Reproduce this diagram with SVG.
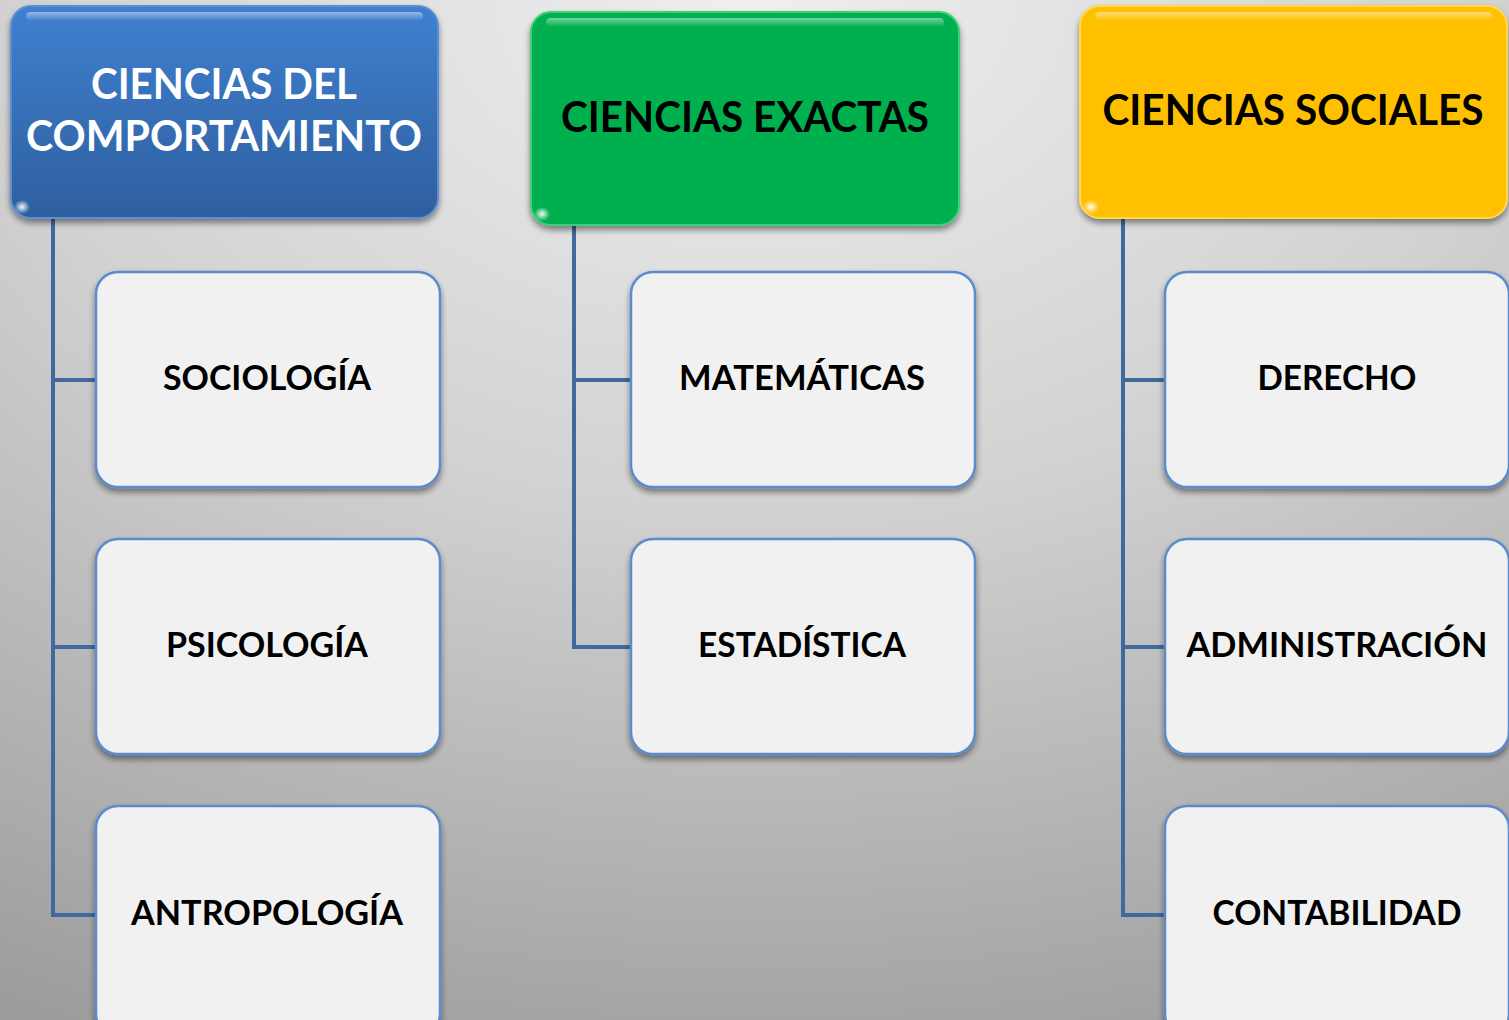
<svg xmlns="http://www.w3.org/2000/svg" width="1509" height="1020" viewBox="0 0 1509 1020">
<defs>
<radialGradient id="bg" cx="0.5" cy="0" r="1.1" fx="0.5" fy="0">
<stop offset="0" stop-color="#efefef"/>
<stop offset="0.45" stop-color="#d2d2d2"/>
<stop offset="1" stop-color="#9c9c9c"/>
</radialGradient>
<linearGradient id="blue" x1="0" y1="0" x2="0" y2="1">
<stop offset="0" stop-color="#3f80d0"/>
<stop offset="1" stop-color="#2e5f9f"/>
</linearGradient>
<linearGradient id="gloss" x1="0" y1="0" x2="0" y2="1">
<stop offset="0" stop-color="#ffffff" stop-opacity="0.45"/>
<stop offset="1" stop-color="#ffffff" stop-opacity="0"/>
</linearGradient>
<radialGradient id="spot" cx="0.5" cy="0.5" r="0.5">
<stop offset="0" stop-color="#ffffff" stop-opacity="0.95"/>
<stop offset="1" stop-color="#ffffff" stop-opacity="0"/>
</radialGradient>
<filter id="sh" x="-10%" y="-10%" width="120%" height="125%">
<feGaussianBlur in="SourceAlpha" stdDeviation="3"/>
<feOffset dx="0" dy="4" result="b"/>
<feComponentTransfer><feFuncA type="linear" slope="0.45"/></feComponentTransfer>
<feMerge><feMergeNode/><feMergeNode in="SourceGraphic"/></feMerge>
</filter>
</defs>
<style>
.hd{stroke-width:2;filter:url(#sh)}
.ch{fill:#f1f1f1;stroke:#5a8ccc;stroke-width:2.5;filter:url(#sh)}
.gl{fill:url(#gloss)}
.sp{fill:url(#spot)}
.tw{font-family:Lato,"Open Sans",sans-serif;font-weight:bold;fill:#ffffff;text-anchor:middle}
.tb{font-family:Lato,"Open Sans",sans-serif;font-weight:bold;fill:#000000;text-anchor:middle}
.cn{fill:none;stroke:#41699e;stroke-width:4}
</style>
<rect x="0" y="0" width="1509" height="1020" fill="url(#bg)"/>
<g id="connectors">
<path class="cn" d="M53 218 V915 H96 M53 380 H96 M53 647 H96"/>
<path class="cn" d="M574 225 V647 H631 M574 380 H631"/>
<path class="cn" d="M1123 218 V915 H1165 M1123 380 H1165 M1123 647 H1165"/>
</g>
<g id="h1">
<rect class="hd" x="11" y="6" width="427" height="212" rx="20" fill="url(#blue)" stroke="#5b8fd6"/>
<rect class="gl" x="26" y="12" width="397" height="9" rx="4.5"/>
<ellipse class="sp" cx="22" cy="207" rx="8" ry="7"/>
<text class="tw" font-size="42" x="224" y="99" textLength="266" lengthAdjust="spacingAndGlyphs">CIENCIAS DEL</text>
<text class="tw" font-size="42" x="224" y="151" textLength="396" lengthAdjust="spacingAndGlyphs">COMPORTAMIENTO</text>
</g>
<g id="h2">
<rect class="hd" x="531" y="12" width="428" height="213" rx="20" fill="#00b050" stroke="#3ccf7a"/>
<rect class="gl" x="546" y="18" width="398" height="9" rx="4.5"/>
<ellipse class="sp" cx="542" cy="214" rx="8" ry="7"/>
<text class="tb" font-size="42" x="745" y="132" textLength="368" lengthAdjust="spacingAndGlyphs">CIENCIAS EXACTAS</text>
</g>
<g id="h3">
<rect class="hd" x="1080" y="6" width="427" height="212" rx="20" fill="#ffc000" stroke="#ffd84a"/>
<rect class="gl" x="1095" y="12" width="397" height="9" rx="4.5"/>
<ellipse class="sp" cx="1091" cy="207" rx="8" ry="7"/>
<text class="tb" font-size="42" x="1293" y="125" textLength="381" lengthAdjust="spacingAndGlyphs">CIENCIAS SOCIALES</text>
</g>
<g id="n-sociologia">
<rect class="ch" x="96" y="272" width="344" height="215" rx="22"/>
<text class="tb" font-size="34" x="267" y="390" textLength="208" lengthAdjust="spacingAndGlyphs">SOCIOLOGÍA</text>
</g>
<g id="n-psicologia">
<rect class="ch" x="96" y="539" width="344" height="215" rx="22"/>
<text class="tb" font-size="34" x="267" y="657" textLength="202" lengthAdjust="spacingAndGlyphs">PSICOLOGÍA</text>
</g>
<g id="n-antropologia">
<rect class="ch" x="96" y="806" width="344" height="230" rx="22"/>
<text class="tb" font-size="34" x="267" y="925" textLength="272" lengthAdjust="spacingAndGlyphs">ANTROPOLOGÍA</text>
</g>
<g id="n-matematicas">
<rect class="ch" x="631" y="272" width="344" height="215" rx="22"/>
<text class="tb" font-size="34" x="802" y="390" textLength="246" lengthAdjust="spacingAndGlyphs">MATEMÁTICAS</text>
</g>
<g id="n-estadistica">
<rect class="ch" x="631" y="539" width="344" height="215" rx="22"/>
<text class="tb" font-size="34" x="802" y="657" textLength="208" lengthAdjust="spacingAndGlyphs">ESTADÍSTICA</text>
</g>
<g id="n-derecho">
<rect class="ch" x="1165" y="272" width="344" height="215" rx="22"/>
<text class="tb" font-size="34" x="1337" y="390" textLength="159" lengthAdjust="spacingAndGlyphs">DERECHO</text>
</g>
<g id="n-administracion">
<rect class="ch" x="1165" y="539" width="344" height="215" rx="22"/>
<text class="tb" font-size="34" x="1337" y="657" textLength="301" lengthAdjust="spacingAndGlyphs">ADMINISTRACIÓN</text>
</g>
<g id="n-contabilidad">
<rect class="ch" x="1165" y="806" width="344" height="230" rx="22"/>
<text class="tb" font-size="34" x="1337" y="925" textLength="249" lengthAdjust="spacingAndGlyphs">CONTABILIDAD</text>
</g>
</svg>
